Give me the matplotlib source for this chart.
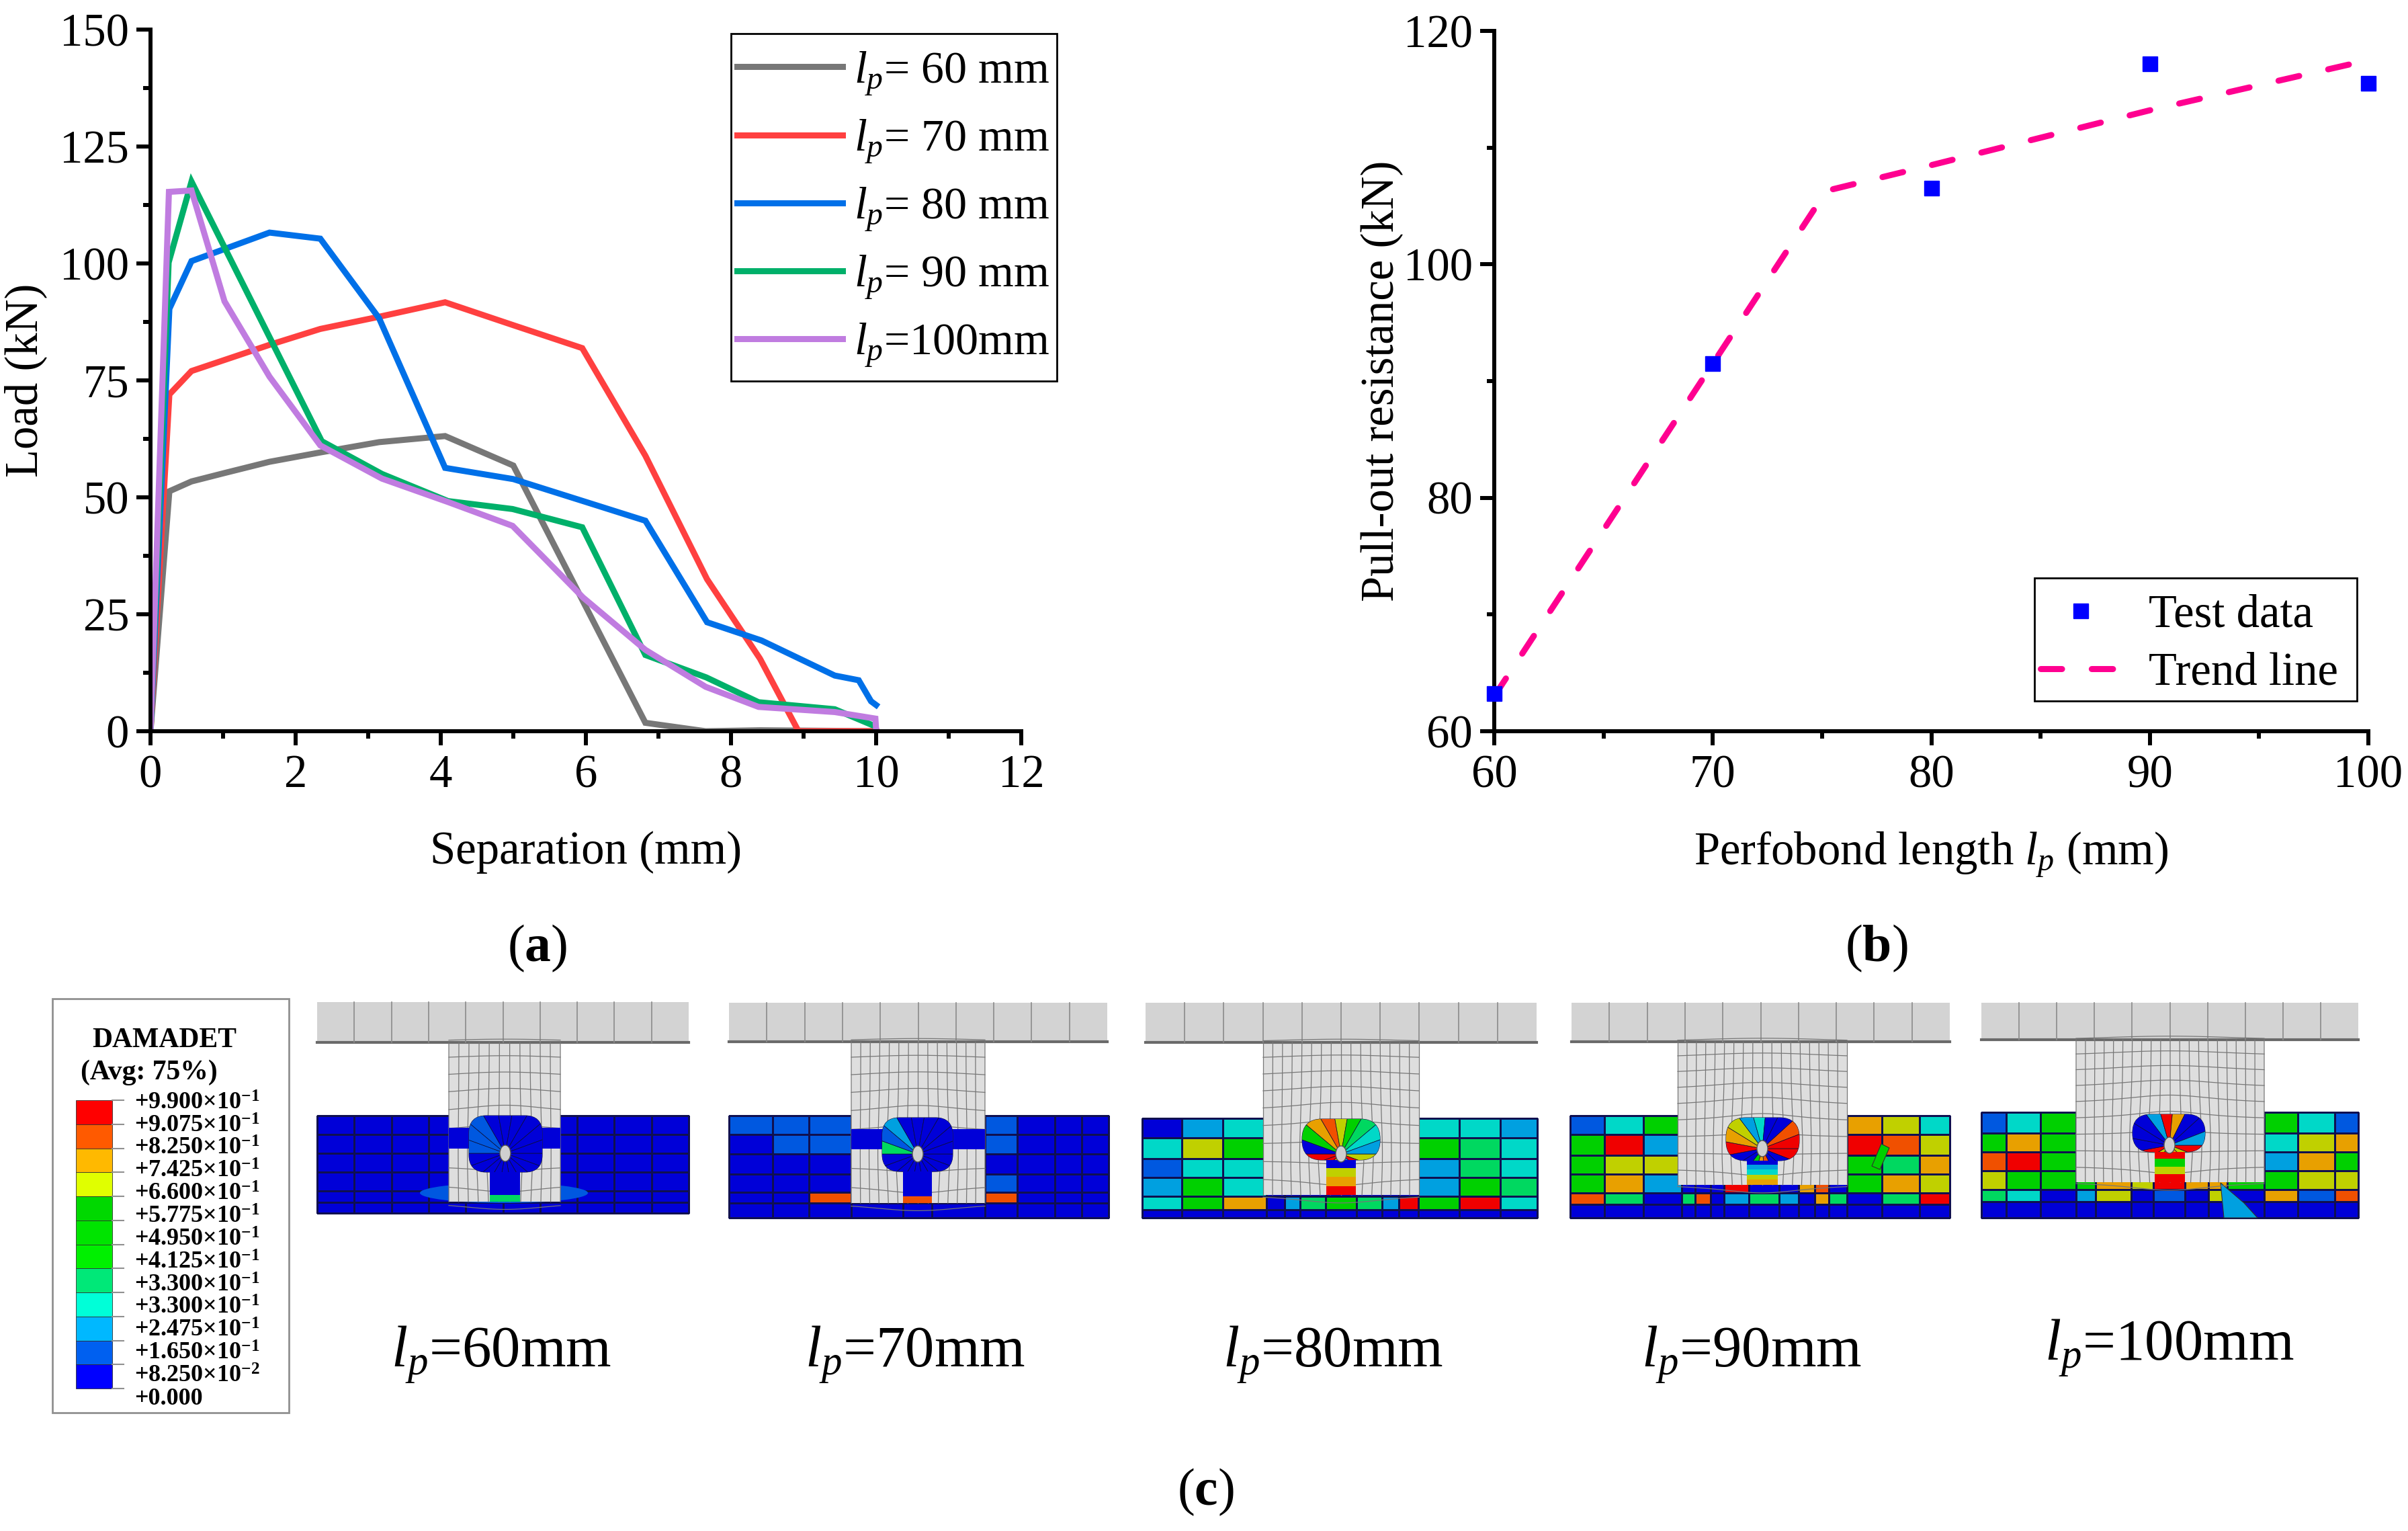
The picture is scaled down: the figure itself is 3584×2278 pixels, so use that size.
import numpy as np
import matplotlib
matplotlib.use("Agg")
import matplotlib.pyplot as plt
from matplotlib.colors import ListedColormap
from matplotlib.patches import Rectangle, FancyBboxPatch, Wedge, Ellipse, Polygon
from matplotlib.ticker import MultipleLocator

plt.rcParams['font.family'] = ['Liberation Serif', 'DejaVu Serif']
plt.rcParams['mathtext.fontset'] = 'custom'
plt.rcParams['mathtext.rm'] = 'Liberation Serif'
plt.rcParams['mathtext.it'] = 'Liberation Serif:italic'
plt.rcParams['mathtext.bf'] = 'Liberation Serif:bold'

# panel (a) curves
x60 = [0, 0.26, 0.565, 1.02, 1.64, 2.34, 3.15, 4.06, 5.0, 6.82, 7.65, 8.4, 10]
y60 = [0, 51.3, 53.4, 55.2, 57.6, 59.6, 61.8, 63.1, 56.8, 1.8, 0, 0.2, 0]
x70 = [0, 0.26, 0.565, 1.64, 2.34, 3.15, 4.06, 5.0, 5.95, 6.82, 7.67, 8.4, 8.93, 10]
y70 = [0, 72, 77, 82.6, 86, 88.6, 91.7, 86.8, 81.9, 58.9, 32.5, 15.5, 0, 0]
x80 = [0, 0.26, 0.565, 1.64, 2.34, 3.15, 4.06, 5.0, 6.82, 7.67, 8.42, 9.43, 9.76, 9.93, 10]
y80 = [0, 90.3, 100.5, 106.6, 105.3, 88.3, 56.3, 53.9, 45, 23.3, 19.4, 11.9, 10.9, 6.4, 5.6]
x90 = [0, 0.25, 0.565, 2.36, 3.19, 4.1, 4.99, 5.95, 6.82, 7.66, 8.38, 9.43, 9.98]
y90 = [0, 100.2, 117.5, 62, 55, 49.2, 47.5, 43.6, 16.3, 11.5, 6.2, 4.7, 1.1]
x100 = [0, 0.254, 0.565, 1.02, 1.64, 2.34, 3.19, 4.1, 4.99, 5.96, 6.82, 7.65, 8.38, 9.43, 9.99, 10]
y100 = [0, 115.3, 115.6, 91.9, 75.8, 61.1, 54, 49, 43.9, 28.6, 17.4, 9.5, 5.2, 4.1, 2.7, 0.3]
curve_labels = ['= 60 mm', '= 70 mm', '= 80 mm', '= 90 mm', '=100mm']
curve_colors = ['#777777', '#FF4040', '#0070E8', '#00B06A', '#C07CE0']

# panel (b)
test_x = [60, 70, 80, 90, 100]
test_y = [63.2, 91.5, 106.5, 117.2, 115.5]
trend_x = [60, 75.2, 80, 90, 100]
trend_y = [63, 106.3, 108.5, 113.2, 117.5]

# panel (c) colour legend
cbar_colors = ['#FF0000', '#FF5A00', '#FFB900', '#E0FF00', '#00D800', '#00E400',
               '#00F000', '#00E878', '#00FFD8', '#00B8FF', '#0060F0', '#0000FF']
cbar_labels = ['+9.900×10$^{\\mathdefault{-1}}$', '+9.075×10$^{\\mathdefault{-1}}$',
               '+8.250×10$^{\\mathdefault{-1}}$', '+7.425×10$^{\\mathdefault{-1}}$',
               '+6.600×10$^{\\mathdefault{-1}}$', '+5.775×10$^{\\mathdefault{-1}}$',
               '+4.950×10$^{\\mathdefault{-1}}$', '+4.125×10$^{\\mathdefault{-1}}$',
               '+3.300×10$^{\\mathdefault{-1}}$', '+3.300×10$^{\\mathdefault{-1}}$',
               '+2.475×10$^{\\mathdefault{-1}}$', '+1.650×10$^{\\mathdefault{-1}}$',
               '+8.250×10$^{\\mathdefault{-2}}$', '+0.000']

# damage levels of the concrete elements, one letter per cell
level_colors = {'b': '#0000D8', 'B': '#0058E0', 's': '#00A0E0', 'c': '#00D8C8', 'g': '#00D860',
                'G': '#00D000', 'y': '#C0D000', 'a': '#E8A000', 'o': '#F05000', 'r': '#F00000'}

cells_60 = ['bbbbbbbbbb'] * 6
cells_70 = ['BBBbbbBbbb', 'bBBbbbBbbb', 'bbbbbbbbbb', 'bbbbbbBbbb', 'bbobobobbb', 'bbbbbbbbbb']
cells_80 = ['bsc' + 'bbbbbbb' + 'ccs', 'cyG' + 'bbbbbbb' + 'Ggc', 'Bcc' + 'bbbbbbb' + 'sgc',
            'sGc' + 'bbbbbbb' + 'sGg', 'cGa' + 'bsgGgsr' + 'Grc', 'b' * 13]
cells_90 = ['BcG' + 'b' * 9 + 'ayc', 'Grs' + 'b' * 9 + 'roy', 'Gyy' + 'b' * 9 + 'Gga',
            'Gas' + 'bbbrbbaob' + 'Gay', 'ogbgobsgsbagbgr', 'b' * 15]
cells_100 = ['BcG' + 'b' * 7 + 'GcB', 'GaG' + 'b' * 7 + 'cya', 'orG' + 'b' * 7 + 'saG',
             'yGG' + 'GayraaG' + 'Gyy', 'gcb' + 'sybBbyb' + 'aBo', 'b' * 13]

panel_labels = ['60mm', '70mm', '80mm', '90mm', '100mm']


def px_axes(fig, left, right, top, bottom):
    return fig.add_axes([left / 3584, 1 - bottom / 2278, (right - left) / 3584, (bottom - top) / 2278])


def style_axes(ax, xmajor, xminor, ymajor, yminor):
    ax.spines['top'].set_visible(False)
    ax.spines['right'].set_visible(False)
    ax.spines['left'].set_linewidth(4.3)
    ax.spines['bottom'].set_linewidth(4.3)
    ax.xaxis.set_major_locator(MultipleLocator(xmajor))
    ax.xaxis.set_minor_locator(MultipleLocator(xminor))
    ax.yaxis.set_major_locator(MultipleLocator(ymajor))
    ax.yaxis.set_minor_locator(MultipleLocator(yminor))
    ax.tick_params(which='major', length=15, width=4.3, labelsize=49.5)
    ax.tick_params(which='minor', length=8, width=4.3)
    ax.tick_params(axis='x', which='major', pad=10)
    ax.tick_params(axis='y', which='major', pad=8)


def draw_cells(ax, xs, ys, rows):
    keys = list(level_colors)
    cmap = ListedColormap([level_colors[k] for k in keys])
    grid = np.array([[keys.index(c) for c in row] for row in rows])
    ax.pcolormesh(xs, ys, grid, cmap=cmap, vmin=-0.5, vmax=len(keys) - 0.5,
                  edgecolors='#101050', linewidth=0.8, zorder=1)


def draw_flange(ax, x0, x1, y0, y1):
    ax.add_patch(Rectangle((x0, y0), x1 - x0, y1 - y0, fc='#D3D3D3', ec='none', zorder=2))
    ax.plot([x0, x1], [y1, y1], color='#6a6a6a', lw=3, zorder=3)
    for xv in np.linspace(x0, x1, 11)[1:-1]:
        ax.plot([xv, xv], [y0, y1], color='#8a8a8a', lw=1.2, zorder=3)


def draw_web(ax, x0, x1, y0, y1, cx, cy, ncol, nrow):
    ax.add_patch(Rectangle((x0, y0), x1 - x0, y1 - y0, fc='#DEDEDE', ec='none', zorder=2))
    # mesh lines pushed away from the hole
    for xv in np.linspace(x0, x1, ncol + 1):
        yy = np.linspace(y0, y1, 40)
        dx = xv - cx
        d = np.hypot(dx, yy - cy) + 1
        xx = xv + 0.45 * dx * np.exp(-d / 45) * (1 - abs(dx) / (x1 - x0) * 2)
        ax.plot(xx, yy, color='#777777', lw=0.9, zorder=3)
    for yv in np.linspace(y0, y1, nrow + 1):
        xx = np.linspace(x0, x1, 40)
        dy = yv - cy
        d = np.hypot(xx - cx, dy) + 1
        ax.plot(xx, yv + 0.6 * dy * np.exp(-d / 55), color='#777777', lw=0.9, zorder=3)


def draw_hole(ax, box, cx, cy, fan, neck, neck_cols, rounding=26):
    x0, x1, y0, y1 = box
    outline = FancyBboxPatch((x0 + 18, y0 + 18), x1 - x0 - 36, y1 - y0 - 36,
                             boxstyle='round,pad=18,rounding_size=%d' % rounding,
                             fc=level_colors['b'], ec='#202040', lw=0.8, zorder=4)
    ax.add_patch(outline)
    step = 360 / len(fan)
    for i, c in enumerate(fan):
        w = Wedge((cx, cy), 120, i * step, (i + 1) * step, fc=level_colors[c], ec='#101030', lw=0.5, zorder=4.1)
        ax.add_patch(w)
        w.set_clip_path(outline)
    nx0, nx1, ny0, ny1 = neck
    bands = np.linspace(ny0, ny1, len(neck_cols) + 1)
    for i, c in enumerate(neck_cols):
        ax.add_patch(Rectangle((nx0, bands[i]), nx1 - nx0, bands[i + 1] - bands[i],
                               fc=level_colors[c], ec='none', zorder=4))
    ax.add_patch(Ellipse((cx, cy), 16, 24, fc='#CFCFCF', ec='#555555', lw=1, zorder=5))


fig = plt.figure(figsize=(35.84, 22.78), dpi=100)

# (a)
ax1 = px_axes(fig, 224, 1520, 44, 1088)
all_x = [x60, x70, x80, x90, x100]
all_y = [y60, y70, y80, y90, y100]
handles = []
for xs, ys, col, lab in zip(all_x, all_y, curve_colors, curve_labels):
    line, = ax1.plot(xs, ys, color=col, lw=6.5, solid_joinstyle='miter', label='$l_{p}$' + lab)
    handles.append(line)
ax1.set_xlim(0, 12)
ax1.set_ylim(0, 150)
style_axes(ax1, 2, 1, 25, 12.5)
ax1.set_xlabel('Separation (mm)', fontsize=49.5)
ax1.set_ylabel('Load (kN)', fontsize=49.5)
ax1.xaxis.set_label_coords(0.5, -0.142)
ax1.yaxis.set_label_coords(-0.119, 0.5)
ax1.legend(handles=handles, loc='upper left', bbox_to_anchor=(1080 / 3584, 1 - 57 / 2278),
           bbox_transform=fig.transFigure, borderaxespad=0, fontsize=49, frameon=False,
           handlelength=2.3, handletextpad=0.25, labelspacing=0.45, borderpad=0.25)

# (b)
ax2 = px_axes(fig, 2224, 3525, 46, 1088)
h_trend, = ax2.plot(trend_x, trend_y, color='#FF0090', lw=6.5, dashes=(3.5, 4.9), dash_capstyle='round',
                    clip_on=False, label='Trend line')
h_test, = ax2.plot(test_x, test_y, ls='none', marker='s', ms=16.5, color='#0000FF', clip_on=False,
                   zorder=5, label='Test data')
ax2.set_xlim(60, 100)
ax2.set_ylim(60, 120)
style_axes(ax2, 10, 5, 20, 10)
ax2.set_xlabel('Perfobond length $l_{p}$ (mm)', fontsize=49.5)
ax2.set_ylabel('Pull-out resistance (kN)', fontsize=49.5)
ax2.xaxis.set_label_coords(0.5, -0.142)
ax2.yaxis.set_label_coords(-0.104, 0.5)
ax2.legend(handles=[h_test, h_trend], loc='upper left', bbox_to_anchor=(3020 / 3584, 1 - 867 / 2278),
           bbox_transform=fig.transFigure, borderaxespad=0, fontsize=49.5, frameon=False,
           handlelength=1.74, handletextpad=0.6, labelspacing=0.33, borderpad=0.25)

# (c) works in picture pixels
ax3 = fig.add_axes([0, 0, 1, 1], zorder=-1)
ax3.set_xlim(0, 3584)
ax3.set_ylim(2278, 0)
ax3.axis('off')

# legend frames of (a) and (b), on top of the axes backgrounds
fig.add_artist(Rectangle((1088, 50), 485, 517, fc='none', ec='black', lw=2, transform=ax3.transData))
fig.add_artist(Rectangle((3028, 860), 480, 183, fc='none', ec='black', lw=2, transform=ax3.transData))

ax3.add_patch(Rectangle((78, 1486), 352, 616, fc='white', ec='#909090', lw=2))
ax3.text(245, 1548, 'DAMADET', fontsize=30, fontweight='bold', ha='center', va='center')
ax3.text(222, 1596, '(Avg: 75%)', fontsize=30, fontweight='bold', ha='center', va='center')
cbar_y = np.linspace(1637, 2066, len(cbar_colors) + 1)
for i, c in enumerate(cbar_colors):
    ax3.add_patch(Rectangle((113, cbar_y[i]), 54, cbar_y[i + 1] - cbar_y[i], fc=c, ec='#303030', lw=0.6))
    ax3.plot([167, 184], [cbar_y[i], cbar_y[i]], color='#909090', lw=1.5)
ax3.plot([167, 184], [cbar_y[-1], cbar_y[-1]], color='#909090', lw=1.5)
label_y = np.linspace(1642, 2082, len(cbar_labels))
for yv, lab in zip(label_y, cbar_labels):
    ax3.text(200, yv, lab, fontsize=26, fontweight='bold', ha='left', va='center')

# lp = 60
draw_cells(ax3, np.linspace(472, 1025, 11), [1660, 1688, 1716, 1744, 1772, 1789, 1805], cells_60)
ax3.add_patch(Ellipse((750, 1775), 250, 30, fc=level_colors['B'], ec='none', zorder=1.5))
draw_flange(ax3, 472, 1025, 1491, 1551)
draw_web(ax3, 668, 834, 1551, 1788, 752, 1716, 11, 9)
ax3.add_patch(Rectangle((668, 1678), 166, 31, fc=level_colors['b'], ec='none', zorder=3.5))
draw_hole(ax3, (698, 807, 1660, 1744), 752, 1716, 'bbbbbbbbbBBBbbbbbb', (729, 774, 1740, 1788), 'bbbbg')

# lp = 70
draw_cells(ax3, [1085, 1150, 1204, 1267, 1344, 1387, 1466, 1514, 1570, 1610, 1650],
           [1660, 1688, 1717, 1747, 1774, 1790, 1812], cells_70)
draw_flange(ax3, 1085, 1648, 1492, 1550)
draw_web(ax3, 1267, 1466, 1550, 1790, 1366, 1717, 14, 9)
ax3.add_patch(Rectangle((1267, 1680), 199, 30, fc=level_colors['b'], ec='none', zorder=3.5))
draw_hole(ax3, (1313, 1418, 1663, 1743), 1366, 1717, 'bbbbbbbbbgBsbbbbbb', (1344, 1387, 1740, 1790), 'bbbbo')

# lp = 80
draw_cells(ax3, [1700, 1759, 1820, 1885, 1912, 1935, 1973, 2019, 2057, 2082, 2111, 2172, 2233, 2288],
           [1664, 1693, 1724, 1752, 1780, 1800, 1812], cells_80)
draw_flange(ax3, 1705, 2287, 1492, 1551)
draw_web(ax3, 1880, 2112, 1551, 1778, 1996, 1717, 16, 9)
draw_hole(ax3, (1938, 2054, 1665, 1726), 1996, 1717, 'yrsbGyarrbGao' + 'yGgcs', (1974, 2018, 1724, 1778), 'byar', 30)

# lp = 90
draw_cells(ax3, [2337, 2388, 2446, 2503, 2523, 2546, 2566, 2603, 2648, 2677, 2701, 2722, 2749, 2801, 2857, 2902],
           [1660, 1688, 1719, 1747, 1775, 1792, 1812], cells_90)
ax3.add_patch(Polygon([[2786, 1735], [2800, 1702], [2812, 1708], [2798, 1740]], fc=level_colors['G'],
                      ec='#303030', lw=0.8, zorder=1.5))
draw_flange(ax3, 2339, 2902, 1492, 1550)
draw_web(ax3, 2497, 2749, 1550, 1763, 2623, 1709, 18, 9)
draw_hole(ax3, (2569, 2678, 1663, 1727), 2623, 1709, 'rbboaGbbrayscbbor', (2600, 2646, 1725, 1763), 'bscya', 30)

# lp = 100
draw_cells(ax3, [2949, 2986, 3037, 3090, 3119, 3172, 3205, 3252, 3287, 3315, 3370, 3420, 3475, 3510],
           [1655, 1686, 1714, 1742, 1770, 1788, 1812], cells_100)
ax3.add_patch(Polygon([[3305, 1760], [3340, 1790], [3360, 1812], [3310, 1812]], fc=level_colors['s'],
                      ec='#303030', lw=0.8, zorder=1.5))
draw_flange(ax3, 2949, 3510, 1492, 1547)
draw_web(ax3, 3090, 3370, 1547, 1759, 3229, 1704, 20, 9)
draw_hole(ax3, (3174, 3282, 1658, 1714), 3229, 1704, 'ryaroGyrbbbsrabbs', (3207, 3252, 1712, 1759), 'rGyr', 28)

label_x = [582, 1198, 1820, 2443, 3043]
label_base = [2033, 2033, 2033, 2033, 2023]
for xv, yv, lab in zip(label_x, label_base, panel_labels):
    ax3.text(xv, yv, '$l_{p}$=' + lab, fontsize=62.6, ha='left', va='baseline')

ax3.text(800, 1411, '($\\mathbf{a}$)', fontsize=56, ha='center', va='center')
ax3.text(2793, 1411, '($\\mathbf{b}$)', fontsize=56, ha='center', va='center')
ax3.text(1794, 2220, '($\\mathbf{c}$)', fontsize=56, ha='center', va='center')

fig.savefig('out.png', dpi=100, facecolor='white')
